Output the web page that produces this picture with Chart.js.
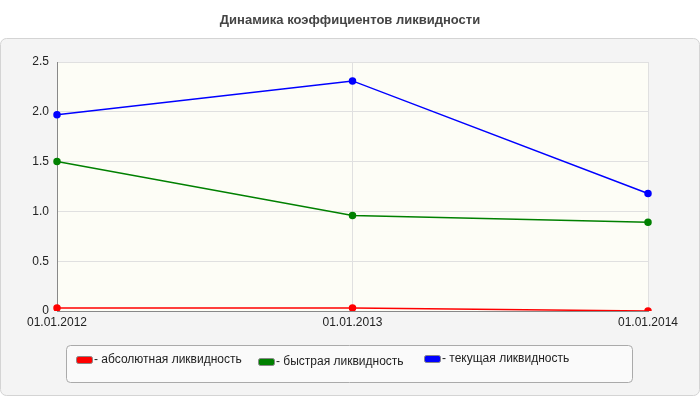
<!DOCTYPE html>
<html>
<head>
<meta charset="utf-8">
<script src="https://cdn.jsdelivr.net/npm/chart.js@4"></script>
<style>
body { margin: 0; background: #fff; }
#wrap { width: 700px; height: 400px; position: relative; }
</style>
</head>
<body>
<div id="wrap"><canvas id="grafico" width="700" height="400"></canvas></div>
<script>
const categorias = ["01.01.2012", "01.01.2013", "01.01.2014"];
const absoluta = [0.03, 0.03, 0.0];
const rapida = [1.5, 0.96, 0.89];
const corrente = [1.97, 2.31, 1.18];
const nomes = ["- абсолютная ликвидность", "- быстрая ликвидность", "- текущая ликвидность"];
const cores = ["#ff0000", "#008000", "#0000ff"];
const fonte = "'Liberation Sans', Arial, sans-serif";

function rrect(ctx, x, y, w, h, r) {
    ctx.beginPath();
    ctx.moveTo(x + r, y);
    ctx.arcTo(x + w, y, x + w, y + h, r);
    ctx.arcTo(x + w, y + h, x, y + h, r);
    ctx.arcTo(x, y + h, x, y, r);
    ctx.arcTo(x, y, x + w, y, r);
    ctx.closePath();
}

const fundo = {
    id: "fundo",
    beforeDraw(chart) {
        const ctx = chart.ctx;
        const a = chart.chartArea;
        ctx.save();
        ctx.fillStyle = "#fff";
        ctx.fillRect(0, 0, chart.width, chart.height);
        rrect(ctx, 0.5, 38.5, 699, 357, 6);
        ctx.fillStyle = "#f4f4f4";
        ctx.fill();
        ctx.strokeStyle = "#d4d4d4";
        ctx.stroke();
        ctx.fillStyle = "#fdfdf6";
        ctx.fillRect(a.left, a.top, a.right - a.left, a.bottom - a.top);
        ctx.fillStyle = "#444";
        ctx.font = "bold 13px " + fonte;
        ctx.textAlign = "center";
        ctx.textBaseline = "middle";
        ctx.fillText("Динамика коэффициентов ликвидности", 350, 20);
        ctx.restore();
    },
    afterDraw(chart) {
        const ctx = chart.ctx;
        ctx.save();
        rrect(ctx, 66.5, 345.5, 566, 37, 4);
        ctx.fillStyle = "#fafafa";
        ctx.fill();
        ctx.strokeStyle = "#aaa";
        ctx.stroke();
        const xs = [76, 258, 424];
        const ys = [360, 362, 359];
        ctx.font = "12px " + fonte;
        ctx.textBaseline = "middle";
        ctx.textAlign = "left";
        nomes.forEach((n, i) => {
            rrect(ctx, xs[i] + 0.5, ys[i] - 3.5, 16, 7, 2);
            ctx.fillStyle = cores[i];
            ctx.fill();
            ctx.strokeStyle = "#888";
            ctx.stroke();
            ctx.fillStyle = "#222";
            ctx.fillText(n, xs[i] + 18, ys[i]);
        });
        ctx.restore();
    }
};

const serie = (label, data, cor) => ({
    label: label,
    data: data,
    borderColor: cor,
    backgroundColor: cor,
    borderWidth: 1.5,
    pointRadius: 3,
    pointHoverRadius: 3,
    tension: 0
});

new Chart(document.getElementById("grafico"), {
    type: "line",
    data: {
        labels: categorias,
        datasets: [
            serie(nomes[0], absoluta, cores[0]),
            serie(nomes[1], rapida, cores[1]),
            serie(nomes[2], corrente, cores[2])
        ]
    },
    options: {
        responsive: false,
        animation: false,
        devicePixelRatio: 1,
        layout: { padding: { left: 0, right: 52, top: 62, bottom: 69 } },
        plugins: { legend: { display: false }, title: { display: false }, tooltip: { enabled: false } },
        scales: {
            x: {
                offset: false,
                grid: { color: "#e0e0e0", drawTicks: false },
                border: { color: "#888" },
                ticks: { color: "#222", font: { family: fonte, size: 12 }, padding: 4, maxRotation: 0 },
                afterFit: s => { s.height = 20; }
            },
            y: {
                min: 0, max: 2.5,
                grid: { color: "#e0e0e0", drawTicks: false },
                border: { color: "#888" },
                ticks: { stepSize: 0.5, color: "#222", font: { family: fonte, size: 12 }, padding: 8 },
                afterFit: s => { s.width = 57; }
            }
        }
    },
    plugins: [fundo]
});
</script>
</body>
</html>
